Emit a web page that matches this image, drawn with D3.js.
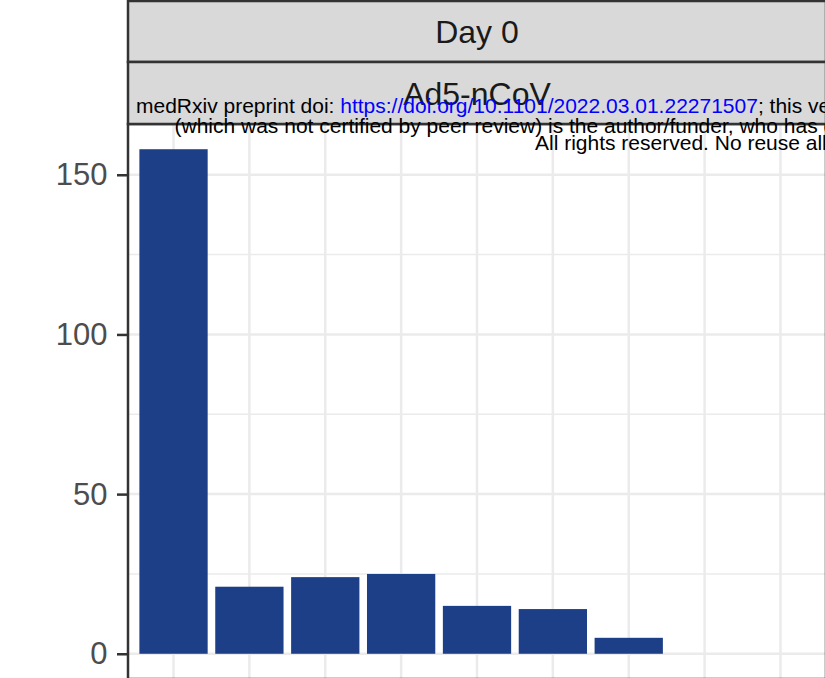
<!DOCTYPE html>
<meta charset="utf-8">
<style>
body {
  margin: 0;
  background: #fff;
}
svg {
  display: block;
  font-family: "Liberation Sans", Arial, Helvetica, sans-serif;
}
.grid line {
  stroke: #ebebeb;
}
.axis text {
  fill: #4d4d4d;
  font-size: 31px;
  font-family: "Liberation Sans", Arial, sans-serif;
}
.axis line {
  stroke: #333;
  stroke-width: 2.5px;
}
.axis path {
  display: none;
}
.strip rect {
  fill: #d9d9d9;
  stroke: #333;
  stroke-width: 2.5px;
}
.strip text {
  fill: #1a1a1a;
  font-size: 32px;
  text-anchor: middle;
}
.note {
  font-size: 21px;
  fill: #000;
}
.note .link {
  fill: #0000ff;
}
</style>
<body>
<svg width="825" height="678"></svg>

<script src="https://d3js.org/d3.v7.min.js"></script>
<script>

// data
var categories = ["1", "2", "3", "4", "5", "6", "7", "8", "9"];
var counts = [158, 21, 24, 25, 15, 14, 5, 0, 0];
var yTicks = [0, 50, 100, 150];
var yMinorTicks = [25, 75, 125];
var stripLabels = ["Day 0", "Ad5-nCoV"];

var svg = d3.select("svg");

var panel = {left: 128, top: 124, width: 698, height: 555},
    stripH = 62;

var data = categories.map(function(c, i) { return {cat: c, n: counts[i]}; });

// ggplot-like expansion: 0.6 band on each side, 5% on y
var x = d3.scaleBand()
    .domain(categories)
    .range([panel.left, panel.left + panel.width])
    .paddingInner(0.1)
    .paddingOuter(0.15);

var maxN = d3.max(counts);
var y = d3.scaleLinear()
    .domain([-0.05 * maxN, 1.05 * maxN])
    .range([panel.top + panel.height, panel.top]);

// panel grid
var g = svg.append("g");

g.append("g")
    .attr("class", "grid")
  .selectAll("line.minor")
  .data(yMinorTicks)
  .enter().append("line")
    .attr("x1", panel.left)
    .attr("x2", panel.left + panel.width)
    .attr("y1", function(d) { return y(d); })
    .attr("y2", function(d) { return y(d); })
    .style("stroke-width", "1.5px");

g.append("g")
    .attr("class", "grid")
  .selectAll("line.major")
  .data(yTicks)
  .enter().append("line")
    .attr("x1", panel.left)
    .attr("x2", panel.left + panel.width)
    .attr("y1", function(d) { return y(d); })
    .attr("y2", function(d) { return y(d); })
    .style("stroke-width", "2.5px");

g.append("g")
    .attr("class", "grid")
  .selectAll("line.vert")
  .data(categories)
  .enter().append("line")
    .attr("x1", function(d) { return x(d) + x.bandwidth() / 2; })
    .attr("x2", function(d) { return x(d) + x.bandwidth() / 2; })
    .attr("y1", panel.top)
    .attr("y2", panel.top + panel.height)
    .style("stroke-width", "2.5px");

// bars
g.selectAll(".bar")
  .data(data)
  .enter().append("rect")
    .attr("class", "bar")
    .attr("x", function(d) { return x(d.cat); })
    .attr("y", function(d) { return y(d.n); })
    .attr("width", x.bandwidth())
    .attr("height", function(d) { return y(0) - y(d.n); })
    .style("fill", "#1c3f87");

// panel border
g.append("rect")
    .attr("x", panel.left)
    .attr("y", panel.top)
    .attr("width", panel.width)
    .attr("height", panel.height)
    .style("fill", "none")
    .style("stroke", "#333")
    .style("stroke-width", "2.5px");

// y axis
g.append("g")
    .attr("class", "axis axis--y")
    .attr("transform", "translate(" + panel.left + ",0)")
    .call(d3.axisLeft(y).tickValues(yTicks).tickSize(11).tickPadding(9.5))
    .call(function(a) { a.attr("font-family", null).attr("font-size", null); });

// x axis (falls just under the visible window)
g.append("g")
    .attr("class", "axis axis--x")
    .attr("transform", "translate(0," + (panel.top + panel.height) + ")")
    .call(d3.axisBottom(x).tickSize(11).tickPadding(9.5))
    .call(function(a) { a.attr("font-family", null).attr("font-size", null); });

// facet strips
var strips = svg.append("g").attr("class", "strip")
  .selectAll("g")
  .data(stripLabels)
  .enter().append("g");

strips.append("rect")
    .attr("x", panel.left)
    .attr("y", function(d, i) { return i === 0 ? 1 : stripH * i; })
    .attr("width", panel.width)
    .attr("height", function(d, i) { return i === 0 ? stripH - 1 : stripH; });

strips.append("text")
    .attr("x", panel.left + panel.width / 2)
    .attr("y", function(d, i) { return stripH * i + stripH / 2; })
    .attr("dy", "0.36em")
    .text(function(d) { return d; });

// preprint stamp printed over the figure
var note = svg.append("g").attr("class", "note");

var l1 = note.append("text").attr("x", 136).attr("y", 113);
l1.append("tspan").text("medRxiv preprint doi: ");
l1.append("tspan").attr("class", "link").text("https://doi.org/10.1101/2022.03.01.22271507");
l1.append("tspan").text("; this version posted March 3, 2022.");

note.append("text").attr("x", 174.5).attr("y", 133)
    .text("(which was not certified by peer review) is the author/funder, who has granted");

note.append("text").attr("x", 535).attr("y", 150)
    .text("All rights reserved. No reuse allowed.");

</script>
</body>
